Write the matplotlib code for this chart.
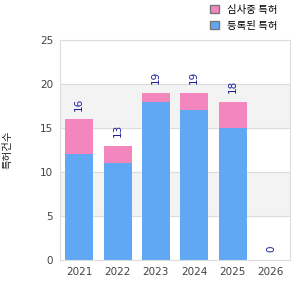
import matplotlib
matplotlib.use("Agg")
import matplotlib.pyplot as plt
from matplotlib.patches import Patch

plt.rcParams['font.family'] = ['Noto Sans CJK KR', 'DejaVu Sans']

years = ["2021", "2022", "2023", "2024", "2025", "2026"]
granted = [12, 11, 18, 17, 15, 0]
pending = [4, 2, 1, 2, 3, 0]
totals = [16, 13, 19, 19, 18, 0]
legend_labels = ["심사중 특허", "등록된 특허"]
ylabel = "특허건수"

BLUE, PINK, NAVY, GRID, BAND = "#60a8f4", "#f386bd", "#1c1c9c", "#dddddd", "#f3f3f3"

fig = plt.figure(figsize=(3, 3), dpi=100)
ax = fig.add_axes([0.2, 0.133, 0.767, 0.734])
ax.set_ylim(0, 25)
ax.set_xlim(-0.5, 5.5)
for lo in (5, 15):
    ax.axhspan(lo, lo + 5, color=BAND, zorder=0)
ax.set_yticks(range(0, 26, 5))
ax.yaxis.grid(True, color=GRID, lw=0.8, zorder=0.5)
ax.set_axisbelow(True)

x = range(len(years))
ax.bar(x, granted, width=0.73, color=BLUE, zorder=2)
ax.bar(x, pending, width=0.73, bottom=granted, color=PINK, zorder=2)
for i, t in enumerate(totals):
    ax.annotate(str(t), (i, t), xytext=(0, 6), textcoords="offset points",
                rotation=90, ha="center", va="bottom", fontsize=7.5, color=NAVY,
                family="DejaVu Sans")

ax.set_xticks(list(x))
ax.set_xticklabels(years)
for s in ax.spines.values():
    s.set_color(GRID)
ax.tick_params(length=0, labelsize=7.5, colors="#444444", pad=5)
for lab in ax.get_xticklabels() + ax.get_yticklabels():
    lab.set_family("DejaVu Sans")
ax.set_ylabel(ylabel, fontsize=7.5, color="#222222", labelpad=20)

handles = [Patch(fc=PINK, ec="#777777", lw=1), Patch(fc=BLUE, ec="#777777", lw=1)]
fig.legend(handles, legend_labels, loc="upper left", bbox_to_anchor=(0.67, 1.015),
           frameon=False, fontsize=7.5, handlelength=0.8, handleheight=0.8,
           handletextpad=0.8, labelspacing=0.55)

fig.savefig("out.png")
